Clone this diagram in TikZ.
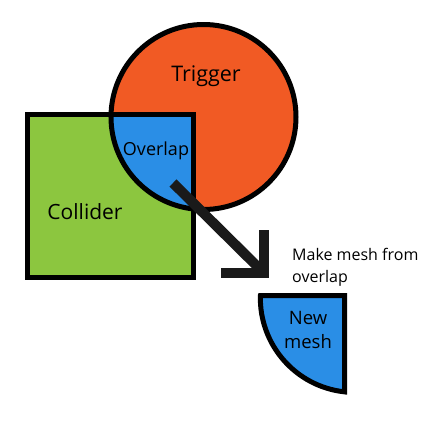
\documentclass[tikz,border=0pt]{standalone}
\usepackage{fontspec}
\setmainfont{Open Sans}
\usetikzlibrary{calc}
\definecolor{triggerorange}{HTML}{F15A24}
\definecolor{collidergreen}{HTML}{8CC63F}
\definecolor{overlapblue}{HTML}{2A8EE6}
\definecolor{arrowgrey}{HTML}{1A1A1A}
\begin{document}
\begin{tikzpicture}[x=1pt,y=-1pt]
\tikzstyle{outline}=[draw=black,line width=5pt,line join=miter]
\tikzstyle{label}=[inner sep=0pt,anchor=base]
\tikzstyle{bigarrow}=[draw=arrowgrey,line width=10pt,line join=miter]
\useasboundingbox (0,0) rectangle (440,429);
  % collider box and trigger sphere
  \fill[collidergreen] (27.5,114.5) rectangle (193.5,277.5);
  \fill[triggerorange] (203.5,117) circle[radius=92.5];
  \fill[overlapblue] (193.5,114.5) -- (193.5,208.96)
      arc[start angle=96.2,end angle=181.55,radius=92.5] -- cycle;
  \draw[outline] (203.5,117) circle[radius=92.5];
  \draw[outline] (27.5,114.5) rectangle (193.5,277.5);
  % the cut out mesh
  \begin{scope}[shift={(344.5,295.5)},scale=1.02]
    \draw[outline,fill=overlapblue] (-82.47,0) -- (0,0) -- (0,94.46)
        arc[start angle=96.2,end angle=181.55,radius=92.5] -- cycle;
  \end{scope}
  \node[label,font=\fontsize{21.5}{26}\selectfont] (trigger) at (206,81) {Trigger};
  \node[label,font=\fontsize{18}{22}\selectfont] (overlap) at (156,155.5) {Overlap};
  \node[label,font=\fontsize{21}{26}\selectfont] (collider) at (85,219) {Collider};
  \node[label,anchor=base west,align=left,font=\fontsize{16}{21.5}\selectfont] (make) at (292,282) {Make mesh from\\overlap};
  \node[label,align=center,font=\fontsize{18.5}{24}\selectfont] (newmesh) at (308,348) {New\\mesh};
  % arrow
  \coordinate (arrowstart) at (173,183);
  \coordinate (arrowend) at (264,273);
  \path[bigarrow] (arrowstart) -- (arrowend);
  \path[bigarrow] (arrowend) +(0,-43) -- (arrowend) -- +(-43,0);
\end{tikzpicture}
\end{document}
